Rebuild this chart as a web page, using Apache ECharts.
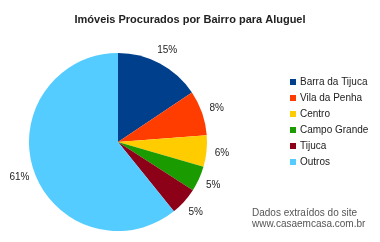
<!DOCTYPE html>
<html><head><meta charset="utf-8">
<script src="https://cdn.jsdelivr.net/npm/echarts@6/dist/echarts.min.js"></script>
<style>html,body{margin:0;padding:0;background:#fff}#c{width:380px;height:242px}</style>
</head><body><div id="c"></div>
<script>
const categories = ['Barra da Tijuca','Vila da Penha','Centro','Campo Grande','Tijuca','Outros'];
const values = [15.6, 8.2, 5.7, 4.6, 5.1, 60.8];
const colors = ['#003f8c','#ff3d00','#ffcc00','#1a9c00','#8c0018','#55ccff'];
const titleText = 'Imóveis Procurados por Bairro para Aluguel';
const noteLines = ['Dados extraídos do site','www.casaemcasa.com.br'];
const labelTexts = ['15%','8%','6%','5%','5%','61%'];

const pieData = categories.map((n,i)=>({name:n,value:values[i]}));
const chart = echarts.init(document.getElementById('c'), null, {renderer:'canvas'});
chart.setOption({
  animation:false,
  color: colors,
  title:{text:titleText,left:'center',top:9,textStyle:{fontFamily:'Liberation Sans',fontWeight:'bold',fontSize:11,color:'#222'}},
  legend:{orient:'vertical',left:285,top:72,itemWidth:6,itemHeight:6,itemGap:6,icon:'rect',
    textStyle:{fontFamily:'Liberation Sans',fontSize:10,color:'#222',padding:[0,0,0,-1]},data:categories},
  graphic:[{type:'text',left:252,top:208,style:{text:noteLines.join('\n'),font:'10px "Liberation Sans"',fill:'#555',align:'center',lineHeight:11,x:56}}],
  series:[
    {type:'pie',center:[118,142],radius:[0,89],startAngle:90,clockwise:true,
     data:pieData,itemStyle:{borderWidth:0},label:{show:false},labelLine:{show:false},
     emphasis:{disabled:true}},
    {type:'pie',center:[118,142],radius:[89,114],startAngle:90,clockwise:true,silent:true,
     legendHoverLink:false,
     data:pieData,itemStyle:{color:'rgba(0,0,0,0)',borderWidth:0},
     label:{show:true,position:'inside',formatter:p=>labelTexts[p.dataIndex],fontFamily:'Liberation Sans',fontSize:10,color:'#222'},
     labelLine:{show:false},
     emphasis:{disabled:true}}
  ]
});
</script></body></html>
